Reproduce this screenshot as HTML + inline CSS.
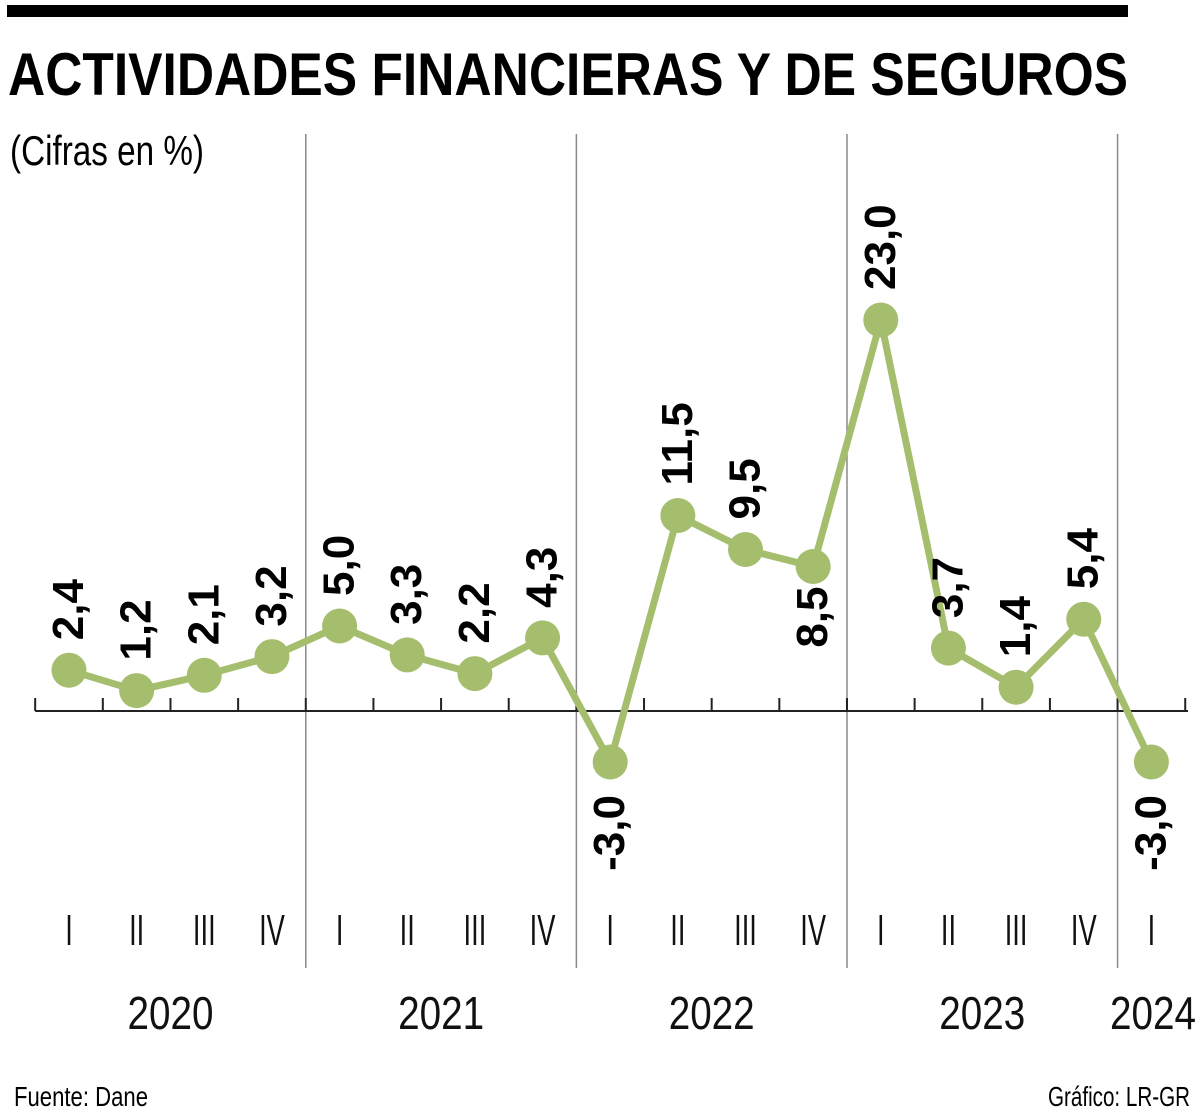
<!DOCTYPE html>
<html><head><meta charset="utf-8"><style>
html,body{margin:0;padding:0;background:#fff;}
svg{display:block;}
text{font-family:"Liberation Sans Narrow","Liberation Sans",sans-serif;}
</style></head><body>
<svg id="chart" width="1200" height="1115" viewBox="0 0 1200 1115" xmlns="http://www.w3.org/2000/svg">
<rect x="7" y="5" width="1121" height="12" fill="#000"/>
<text x="8" y="95" font-size="60" font-weight="bold" textLength="1120" lengthAdjust="spacingAndGlyphs">ACTIVIDADES FINANCIERAS Y DE SEGUROS</text>
<text x="10" y="165" font-size="42" textLength="194" lengthAdjust="spacingAndGlyphs">(Cifras en %)</text>
<text x="14" y="1106" font-size="28" textLength="134" lengthAdjust="spacingAndGlyphs">Fuente: Dane</text>
<text x="1190" y="1106" font-size="28" text-anchor="end" textLength="142" lengthAdjust="spacingAndGlyphs">Gráfico: LR-GR</text>
<g id="grid"></g>
<g id="axis"></g>
<g id="series"></g>
<g id="labels"></g>
</svg>
<script>
const quarters = ["I","II","III","IV","I","II","III","IV","I","II","III","IV","I","II","III","IV","I"];
const values = [2.4,1.2,2.1,3.2,5.0,3.3,2.2,4.3,-3.0,11.5,9.5,8.5,23.0,3.7,1.4,5.4,-3.0];
const valueLabels = ["2,4","1,2","2,1","3,2","5,0","3,3","2,2","4,3","-3,0","11,5","9,5","8,5","23,0","3,7","1,4","5,4","-3,0"];
const labelBelow = [false,false,false,false,false,false,false,false,true,false,false,true,false,false,false,false,true];
const years = ["2020","2021","2022","2023","2024"];
const yearStartIndex = [0,4,8,12,16];

const NS = "http://www.w3.org/2000/svg";
const x0 = 69, step = 67.65, zeroY = 711, pxPerUnit = 17.0;
function xScale(i){ return x0 + i*step; }
function yScale(v){ return zeroY - v*pxPerUnit; }
function mk(tag, attrs, parent, txt){
  const e = document.createElementNS(NS, tag);
  for (const k in attrs) e.setAttribute(k, attrs[k]);
  if (txt !== undefined) e.textContent = txt;
  parent.appendChild(e);
  return e;
}
const grid = document.getElementById('grid');
const axis = document.getElementById('axis');
const series = document.getElementById('series');
const labels = document.getElementById('labels');

for (let k = 1; k < yearStartIndex.length; k++) {
  const xd = xScale(yearStartIndex[k]) - step/2;
  const l = mk('line', {x1: xd, x2: xd, y1: 134, y2: 968, stroke: '#8a8a8a', 'stroke-width': 1.5}, grid);
  
  
}
const ax = mk('line', {x1: xScale(0) - step/2, x2: 1188, y1: zeroY, y2: zeroY, stroke: '#222', 'stroke-width': 2}, axis);


for (let i = 0; i <= quarters.length; i++) {
  const xt = xScale(i) - step/2;
  if (xt > 1188) break;
  const t = mk('line', {x1: xt, x2: xt, y1: zeroY - 13, y2: zeroY, stroke: '#222', 'stroke-width': 2}, axis);
  
  
}
quarters.forEach((q, i) => {
  const t = mk('text', {x: 0, y: 0, 'font-size': 44, 'text-anchor': 'middle', fill: '#111',
    transform: 'translate(' + xScale(i) + ',945) scale(0.62,1)'}, axis, q);
  
  
});
years.forEach((yr, k) => {
  const start = yearStartIndex[k];
  const end = k + 1 < yearStartIndex.length ? yearStartIndex[k+1] - 1 : quarters.length - 1;
  let xc = (xScale(start) + xScale(end)) / 2;
  if (k === years.length - 1) xc = 1153;
  const t = mk('text', {x: 0, y: 0, 'font-size': 46, 'text-anchor': 'middle', fill: '#111',
    transform: 'translate(' + xc + ',1029) scale(0.84,1)'}, axis, yr);
  
  
});
const pts = values.map((v, i) => xScale(i) + ',' + yScale(v)).join(' ');
const pl = mk('polyline', {points: pts, fill: 'none', stroke: '#a5be6d', 'stroke-width': 7, 'stroke-linejoin': 'round'}, series);


values.forEach((v, i) => {
  const c = mk('circle', {cx: xScale(i), cy: yScale(v), r: 17.5, fill: '#a5be6d'}, series);
  
  
});
values.forEach((v, i) => {
  const px = xScale(i), py = yScale(v);
  const below = labelBelow[i];
  const ay = below ? py + (v < 0 ? 33 : 20) : py - 30;
  const t = mk('text', {x: px + 14, y: ay, 'font-size': 44, 'font-weight': 'bold', fill: '#000',
    'text-anchor': below ? 'end' : 'start', transform: 'rotate(-90 ' + (px + 14) + ' ' + ay + ')'}, labels, valueLabels[i]);
  
  
});
</script>
</body></html>
